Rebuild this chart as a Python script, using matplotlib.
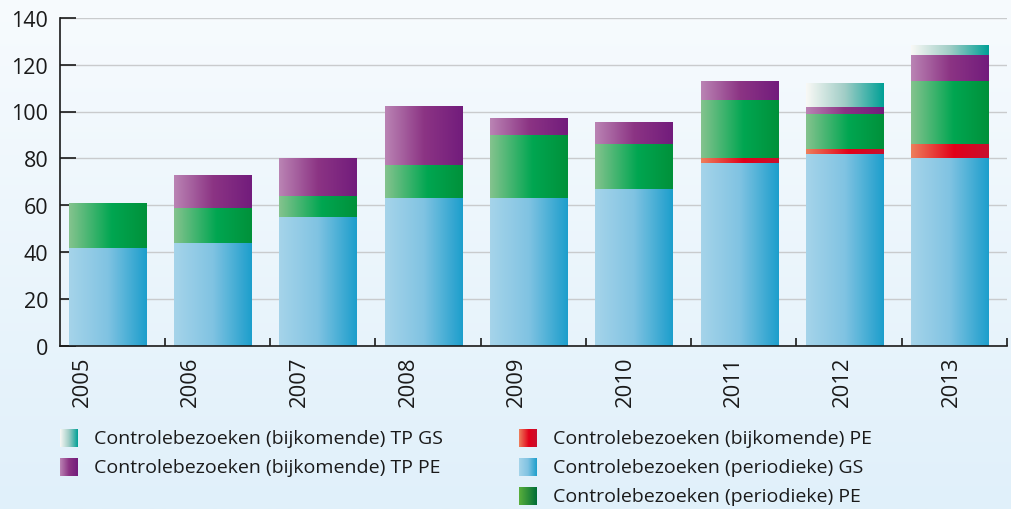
import numpy as np
import matplotlib
matplotlib.use('Agg')
import matplotlib.pyplot as plt
from matplotlib.colors import LinearSegmentedColormap

plt.rcParams['font.family'] = ['Open Sans', 'DejaVu Sans']

# Data
years = ['2005', '2006', '2007', '2008', '2009', '2010', '2011', '2012', '2013']
periodiek_gs = [42, 44, 55, 63, 63, 67, 78, 82, 80]
bijkomend_pe = [0, 0, 0, 0, 0, 0, 2, 2, 6]
periodiek_pe = [19, 15, 9, 14, 27, 19, 25, 15, 27]
bijkomend_tp_pe = [0, 14, 16, 25, 7, 9, 8, 3, 11]
bijkomend_tp_gs = [0, 0, 0, 0, 0, 0, 0, 10, 4]

yticks = [0, 20, 40, 60, 80, 100, 120, 140]

label_tp_gs = 'Controlebezoeken (bijkomende) TP GS'
label_tp_pe = 'Controlebezoeken (bijkomende) TP PE'
label_bk_pe = 'Controlebezoeken (bijkomende) PE'
label_p_gs = 'Controlebezoeken (periodieke) GS'
label_p_pe = 'Controlebezoeken (periodieke) PE'


def rgb(*c):
    return tuple(v / 255 for v in c)


def make_cmap(name, stops):
    return LinearSegmentedColormap.from_list(name, [(p, rgb(*c)) for p, c in stops])


# horizontal gradients used on the bars
cm_gs = make_cmap('gs', [(0, (166, 212, 234)), (0.5, (128, 195, 226)), (1, (28, 158, 204))])
cm_pe = make_cmap('pe', [(0, (133, 195, 142)), (0.55, (0, 166, 81)), (1, (0, 145, 58))])
cm_tppe = make_cmap('tppe', [(0, (186, 132, 180)), (0.5, (140, 52, 132)), (1, (114, 28, 124))])
cm_bkpe = make_cmap('bkpe', [(0, (238, 128, 92)), (0.55, (226, 0, 26)), (1, (200, 16, 46))])
cm_tpgs = make_cmap('tpgs', [(0, (249, 249, 246)), (0.5, (160, 205, 198)), (1, (0, 160, 150))])
# legend swatch for periodieke PE is brighter green to dark green
cm_pe_leg = make_cmap('pe_leg', [(0, (90, 175, 60)), (1, (0, 110, 55))])

grad = np.linspace(0, 1, 256).reshape(1, -1)

fig = plt.figure(figsize=(10.12, 5.10), dpi=100)

# background: white at top fading to light blue
bg = fig.add_axes([0, 0, 1, 1], zorder=-10)
bg_grad = np.linspace(0, 1, 256).reshape(-1, 1)
bg.imshow(bg_grad, cmap=make_cmap('bg', [(0, (247, 251, 254)), (1, (224, 240, 250))]),
          aspect='auto', extent=[0, 1, 0, 1])
bg.axis('off')

ax = fig.add_axes([60 / 1012, 1 - 347 / 510, 947 / 1012, 328.3 / 510])
ax.set_facecolor('none')

x = np.arange(len(years))
width = 0.74


def gradient_bars(bottom, values, cmap):
    bars = ax.bar(x, values, width, bottom=bottom, color='none', edgecolor='none')
    for p in bars:
        h = p.get_height()
        if h <= 0:
            continue
        x0, y0 = p.get_xy()
        ax.imshow(grad, cmap=cmap, aspect='auto', zorder=2,
                  extent=[x0, x0 + p.get_width(), y0, y0 + h])


bottom = np.zeros(len(years))
for vals, cm in [(periodiek_gs, cm_gs), (bijkomend_pe, cm_bkpe), (periodiek_pe, cm_pe),
                 (bijkomend_tp_pe, cm_tppe), (bijkomend_tp_gs, cm_tpgs)]:
    gradient_bars(bottom, vals, cm)
    bottom = bottom + np.array(vals)

ax.set_xlim(-0.454, 8.5)
ax.set_ylim(0, 140)

# axes styling
for s in ['top', 'right']:
    ax.spines[s].set_visible(False)
for s in ['left', 'bottom']:
    ax.spines[s].set_linewidth(1.2)
    ax.spines[s].set_color('#1a1a1a')
    ax.spines[s].set_zorder(5)

ax.set_yticks(yticks)
ax.set_yticklabels([str(v) for v in yticks])
ax.yaxis.grid(True, color='#c9cbcd', linewidth=1.0, zorder=0)
ax.set_axisbelow(True)
ax.tick_params(axis='y', direction='in', length=11.5, width=1.2, pad=8.5,
               labelsize=15.5, colors='#1a1a1a')

# year labels sit slightly offset from the bars, as in the original
ax.set_xticks([-0.246 + i * 1.032 for i in range(len(years))])
ax.set_xticklabels(years, rotation=90, va='top', ha='center')
ax.tick_params(axis='x', which='major', length=0, pad=7, labelsize=15.8, labelcolor='#1a1a1a')
ax.set_xticks([i + 0.54 for i in range(len(years))], minor=True)
ax.tick_params(axis='x', which='minor', direction='in', length=6, width=1.2, color='#1a1a1a')

# hand-built legend with gradient swatches
legend_items = [
    (60, 439, cm_tpgs, label_tp_gs),
    (60, 468, cm_tppe, label_tp_pe),
    (519, 439, cm_bkpe, label_bk_pe),
    (519, 468, cm_gs, label_p_gs),
    (519, 497, cm_pe_leg, label_p_pe),
]
W, H = 1012, 510
for px, py, cm, lab in legend_items:
    sw = fig.add_axes([px / W, 1 - (py + 9) / H, 18 / W, 18 / H])
    sw.imshow(grad, cmap=cm, aspect='auto')
    sw.axis('off')
    fig.text((px + 34) / W, 1 - py / H, lab, fontsize=14, color='#1a1a1a',
             va='center', ha='left')

fig.savefig('out.png', dpi=100)
